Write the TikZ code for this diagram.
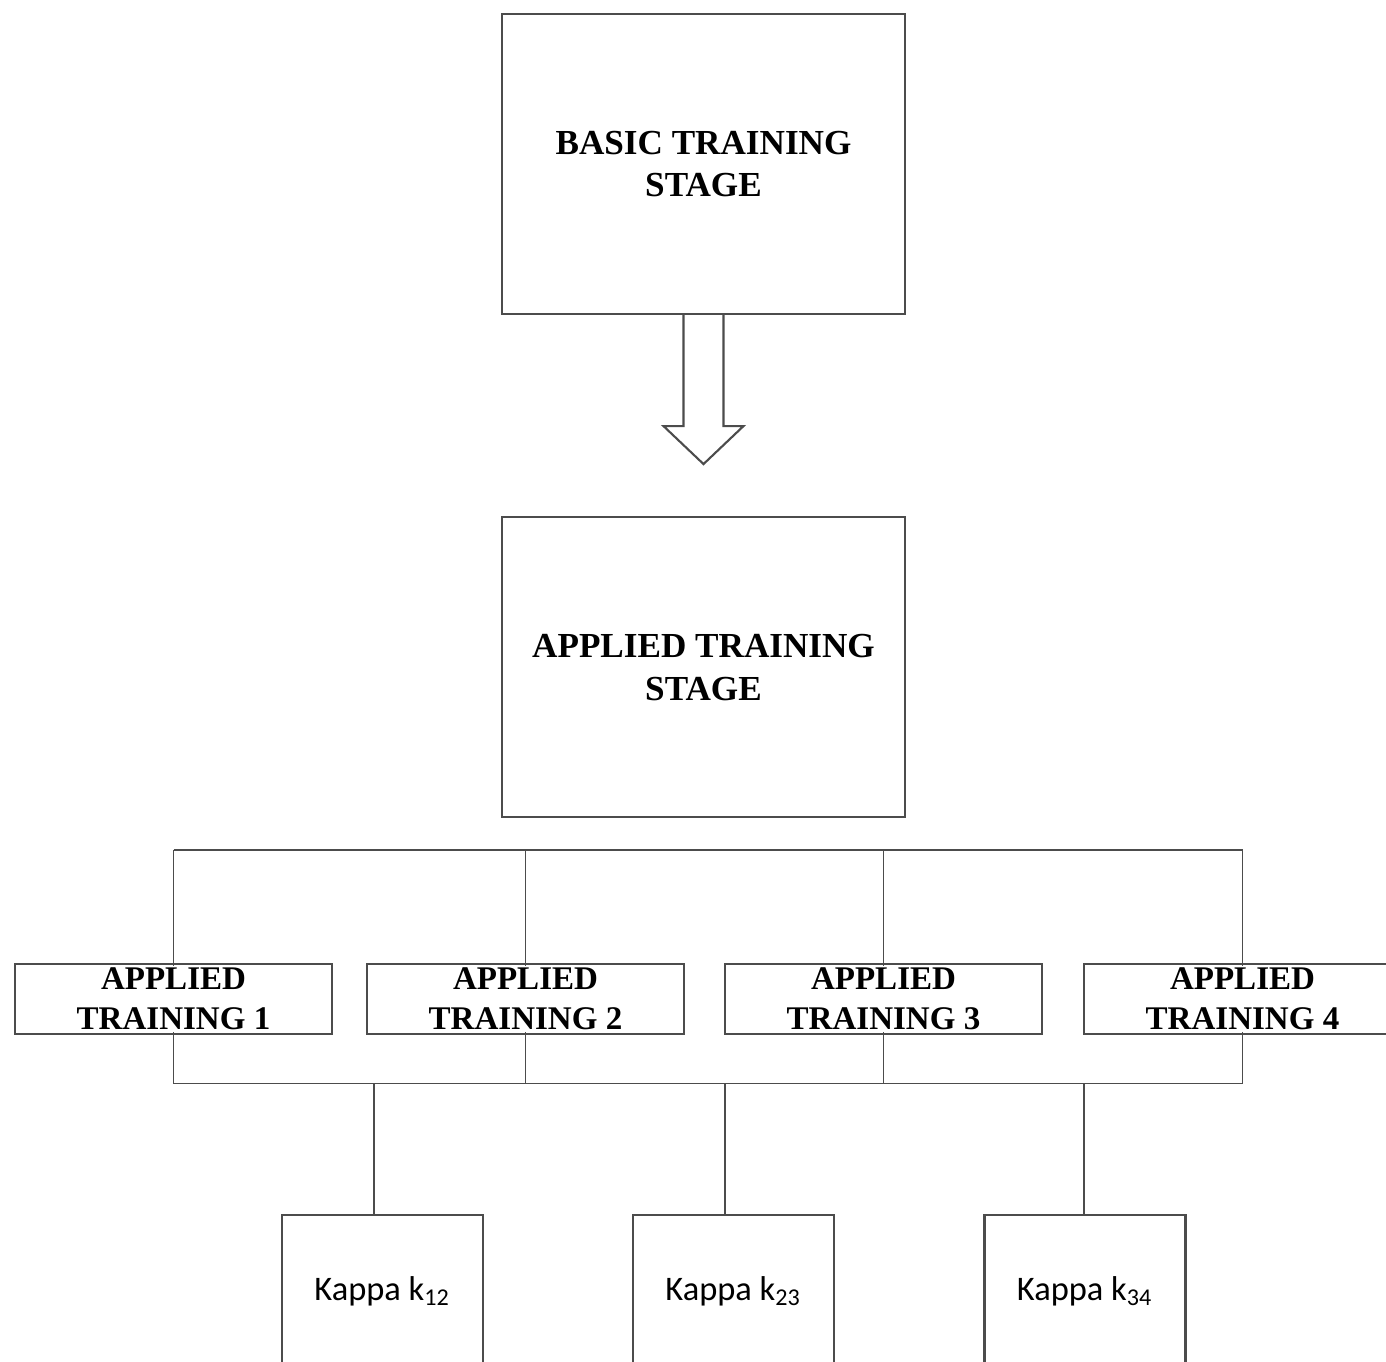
\documentclass[tikz,border=0pt]{standalone}
\usepackage{fontspec}
\setmainfont{Liberation Serif}
\newfontfamily\kappafont{Carlito}
\usetikzlibrary{positioning,backgrounds,calc}

\begin{document}
\begin{tikzpicture}[
  line width=0.6pt,
  % Block styles
  stage/.style={
    draw=black!70, minimum width=4.03cm, minimum height=3.0cm,
    align=center, font=\fontsize{10}{12.2}\selectfont\bfseries
  },
  applied/.style={
    draw=black!70, minimum width=3.17cm, minimum height=0.70cm
  },
  appliedtext/.style={
    fill=white, inner sep=0.5pt, align=center,
    font=\fontsize{9.4}{11.4}\selectfont\bfseries
  },
  kappa/.style={
    draw=black!70, minimum width=2.01cm, minimum height=1.52cm,
    font=\kappafont\fontsize{9.8}{11.5}\selectfont
  },
  bus/.style={draw=black!70}
]
\useasboundingbox (0,0) rectangle (13.86,-13.61);
\clip (0,0) rectangle (13.86,-13.61);

% ── Stages ───────────────────────────────────────────────────────────────────
\node[stage] (basic) at (7.035,-1.64) {BASIC TRAINING\\STAGE};
\node[stage, below=2.01cm of basic] (appstage) {APPLIED TRAINING\\STAGE};

% Block arrow between the stages
\draw[draw=black!70] ($(basic.south)+(-0.2,0)$) -- ++(0,-1.11) -- ++(-0.2,0)
  -- ($(basic.south)+(0,-1.49)$) -- ++(0.4,0.38) -- ++(-0.2,0) -- ++(0,1.11);

% ── Applied trainings ────────────────────────────────────────────────────────
\node[applied, label={[appliedtext]center:{APPLIED\\TRAINING 1}}] (at1) at (1.735,-9.99) {};
\node[applied, label={[appliedtext]center:{APPLIED\\TRAINING 2}}] (at2) at (5.255,-9.99) {};
\node[applied, label={[appliedtext]center:{APPLIED\\TRAINING 3}}] (at3) at (8.835,-9.99) {};
\node[applied, label={[appliedtext]center:{APPLIED\\TRAINING 4}}] (at4) at (12.425,-9.99) {};

% ── Kappa boxes ──────────────────────────────────────────────────────────────
\node[kappa] (k12) at (3.825,-12.91) {Kappa k\textsubscript{12}};
\node[kappa] (k23) at (7.335,-12.91) {Kappa k\textsubscript{23}};
\node[kappa] (k34) at (10.85,-12.91) {Kappa k\textsubscript{34}};

% ── Buses ────────────────────────────────────────────────────────────────────
\coordinate (topbus) at (0,-8.50);
\coordinate (botbus) at (0,-10.835);
\coordinate (tap12) at (3.74,-10.835);
\coordinate (tap23) at (7.25,-10.835);
\coordinate (tap34) at (10.84,-10.835);

\begin{scope}[on background layer]
  \draw[bus] (at1.center |- topbus) -- (at4.center |- topbus);
  \draw[bus] (at1.center |- botbus) -- (at4.center |- botbus);
  \draw[bus] (at1.center |- topbus) -- (at1.center |- botbus);
  \draw[bus] (at2.center |- topbus) -- (at2.center |- botbus);
  \draw[bus] (at3.center |- topbus) -- (at3.center |- botbus);
  \draw[bus] (at4.center |- topbus) -- (at4.center |- botbus);
\end{scope}

% Bus -> kappa
\draw[bus] (tap12) -- (tap12 |- k12.north);
\draw[bus] (tap23) -- (tap23 |- k23.north);
\draw[bus] (tap34) -- (tap34 |- k34.north);

\end{tikzpicture}
\end{document}
